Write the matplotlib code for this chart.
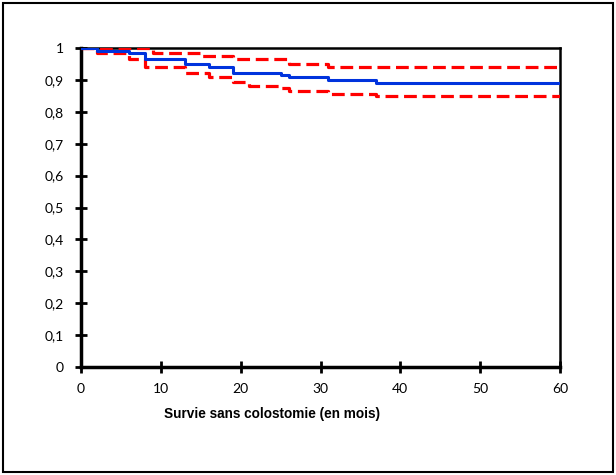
import matplotlib
matplotlib.use("Agg")
import matplotlib.pyplot as plt
from matplotlib.patches import Rectangle

# Kaplan-Meier estimate (step points: month, survival)
km_t = [0, 2, 6, 8, 13, 16, 19, 25, 26, 31, 37, 60]
km_s = [1.0, 0.991, 0.983, 0.966, 0.949, 0.941, 0.922, 0.915, 0.908, 0.900, 0.891, 0.891]

# Upper confidence bound
up_t = [0, 9, 15, 19, 26, 31, 60]
up_s = [1.0, 0.985, 0.976, 0.966, 0.950, 0.941, 0.941]

# Lower confidence bound
lo_t = [0, 2, 6, 8, 13, 16, 19, 21, 25, 26, 31, 37, 60]
lo_s = [1.0, 0.983, 0.966, 0.941, 0.923, 0.910, 0.892, 0.882, 0.874, 0.865, 0.857, 0.849, 0.849]

x_ticks = [0, 10, 20, 30, 40, 50, 60]
y_ticks = [0, 0.1, 0.2, 0.3, 0.4, 0.5, 0.6, 0.7, 0.8, 0.9, 1.0]
y_labels = ["0", "0,1", "0,2", "0,3", "0,4", "0,5", "0,6", "0,7", "0,8", "0,9", "1"]
x_label = "Survie sans colostomie (en mois)"

fig = plt.figure(figsize=(6.16, 4.75), dpi=100)
fig.patch.set_facecolor("white")
ax = fig.add_axes([81/616, 1 - 367/475, (560-81)/616, (367-48)/475])

ax.step(up_t, up_s, where="post", color="#ff0000", lw=2.3, ls=(0, (4, 1.8)), zorder=3)
ax.step(lo_t, lo_s, where="post", color="#ff0000", lw=2.3, ls=(0, (4, 1.8)), zorder=3)
ax.step(km_t, km_s, where="post", color="#0033dd", lw=2.2, zorder=4)

ax.set_xlim(0, 60)
ax.set_ylim(0, 1)
ax.set_xticks(x_ticks)
ax.set_xticklabels([str(v) for v in x_ticks])
ax.set_yticks(y_ticks)
ax.set_yticklabels(y_labels)
for side in ["left", "bottom"]:
    ax.spines[side].set_linewidth(2.5)
for side in ["top", "right"]:
    ax.spines[side].set_linewidth(1.8)
ax.tick_params(direction="inout", length=9, width=2, labelsize=10)
ax.tick_params(axis="y", pad=8)
ax.tick_params(axis="x", pad=7)
for lab in ax.get_xticklabels() + ax.get_yticklabels():
    lab.set_fontfamily("Lato")
ax.set_xlabel(x_label, fontsize=9.8, fontweight="bold", family="Liberation Sans")
ax.xaxis.set_label_coords(0.399, -0.147)
ax.xaxis.label.set_va("center")

fig.add_artist(Rectangle((3/616, 3/475), 610/616, 469/475, transform=fig.transFigure,
                         fill=False, edgecolor="black", lw=1.5))

fig.savefig("out.png", dpi=100)
